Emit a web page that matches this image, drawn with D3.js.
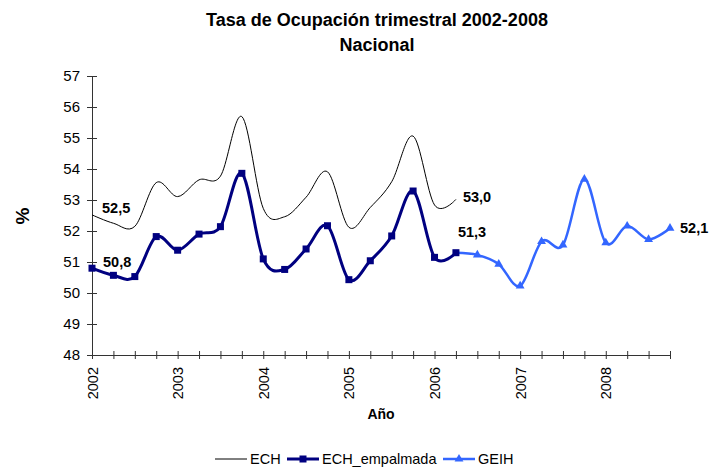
<!DOCTYPE html>
<html>
<head>
<meta charset="utf-8">
<script src="https://cdn.jsdelivr.net/npm/d3@7/dist/d3.min.js"></script>
<style>
  body { margin: 0; background: #fff; }
  text { font-family: "Liberation Sans", Arial, sans-serif; fill: #000; }
</style>
</head>
<body>
<div class="chart"></div>
<script>
// quarters on the category axis
const quarters = [
  "2002-I","2002-II","2002-III","2002-IV",
  "2003-I","2003-II","2003-III","2003-IV",
  "2004-I","2004-II","2004-III","2004-IV",
  "2005-I","2005-II","2005-III","2005-IV",
  "2006-I","2006-II","2006-III","2006-IV",
  "2007-I","2007-II","2007-III","2007-IV",
  "2008-I","2008-II","2008-III","2008-IV"
];
const yearTicks = ["2002","2003","2004","2005","2006","2007","2008"];
const yTicks = [48, 49, 50, 51, 52, 53, 54, 55, 56, 57];

// series values (%)
const ech = [52.52, 52.25, 52.15, 53.56, 53.11, 53.65, 53.77, 55.69, 52.73,
             52.46, 53.09, 53.91, 52.12, 52.76, 53.59, 55.06, 52.84, 53.02];
const echEmpalmada = [50.80, 50.57, 50.53, 51.82, 51.38, 51.90, 52.14, 53.86, 51.10,
                      50.76, 51.42, 52.17, 50.43, 51.04, 51.84, 53.29, 51.15, 51.30];
// GEIH picks up from the last empalmada quarter (2006-II)
const geihStart = 17;
const geih = [51.30, 51.23, 50.93, 50.23, 51.66, 51.55, 53.67, 51.62, 52.16, 51.73, 52.09];

const svgWidth = 709, svgHeight = 468;
const margin = { top: 76, right: 39, bottom: 113, left: 92 };
const width = svgWidth - margin.left - margin.right;
const height = svgHeight - margin.top - margin.bottom;

const svg = d3.select(".chart").append("svg")
  .attr("width", svgWidth)
  .attr("height", svgHeight);

const g = svg.append("g")
  .attr("transform", `translate(${margin.left}, ${margin.top})`);

const x = d3.scalePoint().domain(quarters).range([0, width]);
const y = d3.scaleLinear().domain([48, 57]).range([height, 0]);

const fmt = v => d3.format(".1f")(v).replace(".", ",");

// axes
const yAxis = d3.axisLeft(y).tickValues(yTicks).tickSize(5).tickPadding(7).tickFormat(d3.format("d"));
const yG = g.append("g").call(yAxis);
yG.select(".domain").attr("stroke", "#333");
yG.selectAll(".tick line").attr("x1", 5).attr("stroke", "#333");
yG.selectAll(".tick text").style("font-size", "15px");

const xAxis = d3.axisBottom(x).tickSize(4)
  .tickFormat(d => d.endsWith("-I") ? d.slice(0, 4) : "");
const xG = g.append("g").attr("transform", `translate(0, ${height})`).call(xAxis);
xG.select(".domain").attr("stroke", "#333");
xG.selectAll(".tick line").attr("y1", -4).attr("stroke", "#333");
xG.selectAll(".tick text")
  .attr("transform", "rotate(-90)")
  .attr("x", -12).attr("y", 0).attr("dy", ".35em")
  .attr("text-anchor", "end")
  .style("font-size", "14.5px");

const smooth = d3.curveCardinal.tension(0);
const line = d3.line().curve(smooth)
  .x(d => x(d.q)).y(d => y(d.v));

const echData = ech.map((v, i) => ({ q: quarters[i], v }));
const empData = echEmpalmada.map((v, i) => ({ q: quarters[i], v }));
const geihData = geih.map((v, i) => ({ q: quarters[geihStart + i], v }));

// ECH
g.append("path").datum(echData)
  .attr("d", line).attr("fill", "none")
  .attr("stroke", "#000").attr("stroke-width", 1);

// GEIH
g.append("path").datum(geihData)
  .attr("d", line).attr("fill", "none")
  .attr("stroke", "#3366ff").attr("stroke-width", 2.5);
const tri = d3.symbol().type(d3.symbolTriangle).size(34);
g.selectAll(".tri").data(geihData.slice(1)).enter()
  .append("path").attr("class", "tri")
  .attr("d", tri)
  .attr("transform", d => `translate(${x(d.q)}, ${y(d.v)})`)
  .attr("fill", "#3366ff");

// ECH_empalmada
g.append("path").datum(empData)
  .attr("d", line).attr("fill", "none")
  .attr("stroke", "#000080").attr("stroke-width", 3);
g.selectAll(".sq").data(empData).enter()
  .append("rect").attr("class", "sq")
  .attr("x", d => x(d.q) - 3.5).attr("y", d => y(d.v) - 3.5)
  .attr("width", 7).attr("height", 7)
  .attr("fill", "#000080");

// data labels
const labels = [
  { d: echData[0], dx: 10, dy: -2 },
  { d: empData[0], dx: 11, dy: -1 },
  { d: echData[echData.length - 1], dx: 7, dy: 3 },
  { d: empData[empData.length - 1], dx: 2, dy: -16 },
  { d: geihData[geihData.length - 1], dx: 10, dy: 5 }
];
g.selectAll(".lbl").data(labels).enter()
  .append("text").attr("class", "lbl")
  .attr("x", l => x(l.d.q) + l.dx)
  .attr("y", l => y(l.d.v) + l.dy)
  .style("font-size", "14.5px").style("font-weight", "bold")
  .text(l => fmt(l.d.v));

// titles
svg.append("text").attr("x", 377).attr("y", 26)
  .attr("text-anchor", "middle")
  .style("font-size", "18px").style("font-weight", "bold")
  .text("Tasa de Ocupación trimestral 2002-2008");
svg.append("text").attr("x", 377).attr("y", 51)
  .attr("text-anchor", "middle")
  .style("font-size", "18px").style("font-weight", "bold")
  .text("Nacional");

svg.append("text").attr("x", 381).attr("y", 419)
  .attr("text-anchor", "middle")
  .style("font-size", "14px").style("font-weight", "bold")
  .text("Año");

svg.append("text")
  .attr("transform", "translate(29, 216) rotate(-90)")
  .attr("text-anchor", "middle")
  .style("font-size", "19px").style("font-weight", "bold")
  .text("%");

// legend
const legend = svg.append("g").attr("transform", "translate(215, 459)");
const items = [
  { name: "ECH", color: "#000", w: 1, marker: null, x: 0 },
  { name: "ECH_empalmada", color: "#000080", w: 3, marker: "sq", x: 72 },
  { name: "GEIH", color: "#3366ff", w: 2.5, marker: "tri", x: 228 }
];
items.forEach(it => {
  const lg = legend.append("g").attr("transform", `translate(${it.x}, 0)`);
  lg.append("line").attr("x1", 0).attr("x2", 32).attr("y1", 0).attr("y2", 0)
    .attr("stroke", it.color).attr("stroke-width", it.w);
  if (it.marker === "sq") {
    lg.append("rect").attr("x", 12.5).attr("y", -3.5).attr("width", 7).attr("height", 7)
      .attr("fill", it.color);
  } else if (it.marker === "tri") {
    lg.append("path").attr("d", tri).attr("transform", "translate(16, 0)").attr("fill", it.color);
  }
  lg.append("text").attr("x", 35).attr("y", 5)
    .style("font-size", "14.5px").text(it.name);
});
</script>
</body>
</html>
